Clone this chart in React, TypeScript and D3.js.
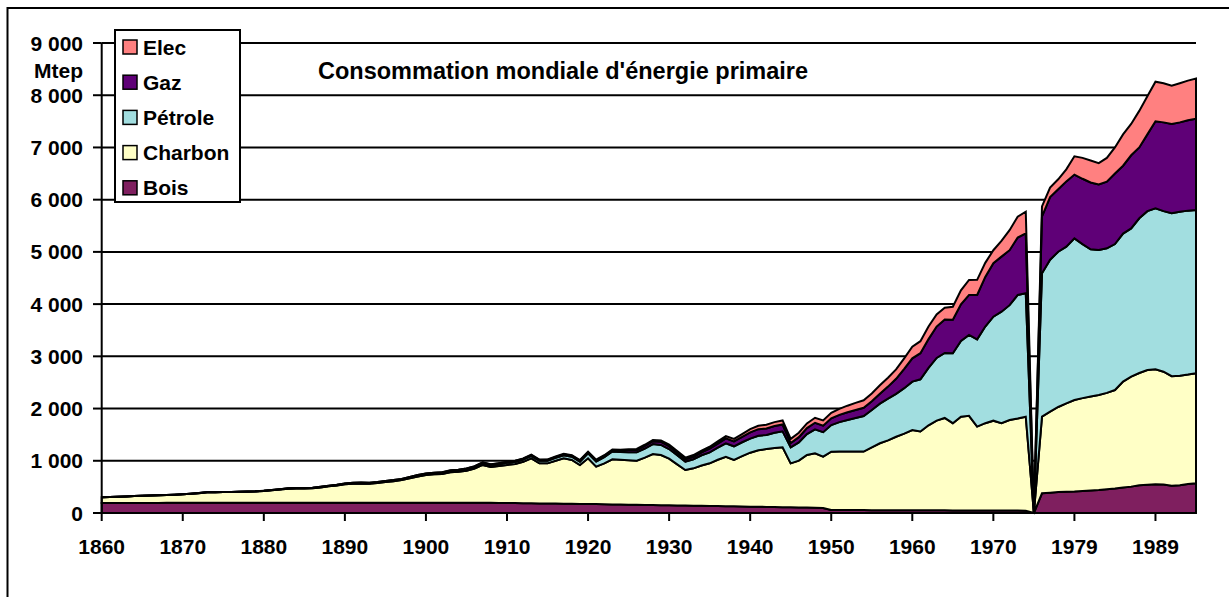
import React from "react";
import * as d3 from "d3";

// ---------- DATA ----------
// categories: yearly 1860-1974, one empty (break) category, then 1975-1994
const categories: string[] = [
  ...d3.range(1860, 1975).map(String),
  "",
  ...d3.range(1975, 1995).map(String),
];

const tickLabels = ["1860", "1870", "1880", "1890", "1900", "1910", "1920", "1930", "1940", "1950", "1960", "1970", "1979", "1989"];
const yTicks = [0, 1000, 2000, 3000, 4000, 5000, 6000, 7000, 8000, 9000];
const yTickLabels = ["0", "1 000", "2 000", "3 000", "4 000", "5 000", "6 000", "7 000", "8 000", "9 000"];

const seriesNames = ["Bois", "Charbon", "Pétrole", "Gaz", "Elec"];
const seriesColors = ["#7F1F5F", "#FFFFC6", "#A2DEE0", "#5F0077", "#FF8080"];

const bois = [
  190, 190, 191, 191, 192, 192, 193, 193, 194, 194,
  195, 195, 195, 196, 196, 196, 197, 197, 197, 197,
  198, 198, 198, 198, 198, 198, 198, 198, 198, 198,
  198, 198, 198, 198, 198, 198, 197, 197, 197, 197,
  196, 196, 196, 195, 195, 195, 194, 194, 194, 193,
  192, 190, 188, 186, 184, 182, 180, 178, 176, 174,
  172, 170, 168, 165, 162, 160, 157, 155, 152, 150,
  147, 145, 142, 140, 137, 135, 132, 130, 127, 125,
  122, 120, 117, 115, 112, 110, 107, 104, 100, 97,
  58, 57, 57, 56, 56, 55, 55, 54, 54, 53,
  53, 52, 52, 51, 51, 50, 50, 49, 49, 48,
  48, 47, 47, 46, 45,
  0,
  377, 390, 400, 405, 410, 420, 430, 440, 455, 470,
  490, 505, 530, 540, 550, 545, 520, 530, 555, 570,
];

const charbon = [
  110, 115, 119, 127, 133, 138, 142, 147, 151, 156,
  163, 173, 185, 199, 199, 204, 205, 208, 211, 215,
  223, 237, 252, 267, 272, 272, 274, 292, 312, 327,
  351, 362, 367, 362, 377, 397, 413, 433, 468, 503,
  532, 544, 549, 585, 595, 615, 656, 726, 686, 707,
  728, 750, 792, 861, 767, 769, 820, 869, 839, 745,
  875, 717, 783, 863, 858, 850, 845, 905, 978, 961,
  893, 785, 681, 715, 773, 816, 888, 948, 888, 965,
  1033, 1080, 1108, 1130, 1146, 841, 895, 1007, 1043, 981,
  1116, 1123, 1123, 1122, 1120, 1203, 1280, 1336, 1406, 1467,
  1537, 1508, 1628, 1719, 1769, 1670, 1795, 1811, 1606, 1672,
  1720, 1673, 1733, 1764, 1800,
  0,
  1468, 1550, 1630, 1695, 1754, 1780, 1800, 1820, 1845, 1885,
  2025, 2105, 2150, 2198, 2201, 2161, 2100, 2100, 2095, 2105,
];

const petrole = [
  0, 0, 0, 0, 1, 1, 1, 1, 1, 1,
  1, 1, 1, 2, 2, 2, 2, 3, 3, 3,
  4, 4, 5, 5, 5, 6, 6, 7, 7, 8,
  9, 10, 10, 11, 11, 12, 13, 14, 15, 17,
  19, 21, 23, 25, 27, 29, 31, 33, 35, 37,
  40, 42, 44, 46, 48, 50, 55, 60, 62, 65,
  95, 100, 120, 150, 150, 155, 160, 175, 190, 192,
  185, 175, 162, 175, 195, 210, 230, 255, 262, 265,
  270, 280, 270, 290, 307, 308, 350, 400, 460, 470,
  510, 560, 600, 640, 680, 715, 760, 800, 822, 870,
  925, 1000, 1100, 1200, 1245, 1340, 1450, 1550, 1670, 1850,
  1992, 2135, 2200, 2365, 2362,
  0,
  2745, 2910, 2974, 3000, 3096, 2950, 2820, 2776, 2768, 2795,
  2835, 2840, 2963, 3042, 3084, 3074, 3119, 3140, 3140, 3127,
];

const gaz = [
  0, 0, 0, 0, 0, 0, 0, 0, 0, 0,
  0, 0, 0, 0, 0, 0, 0, 0, 0, 0,
  1, 1, 2, 2, 3, 3, 4, 5, 6, 6,
  7, 7, 7, 7, 7, 8, 8, 8, 8, 9,
  9, 10, 10, 11, 11, 12, 12, 13, 14, 14,
  15, 15, 16, 16, 17, 17, 18, 19, 19, 20,
  20, 20, 22, 25, 27, 40, 45, 50, 55, 60,
  55, 50, 45, 48, 55, 70, 80, 95, 95, 105,
  120, 125, 125, 130, 130, 80, 100, 115, 125, 125,
  128, 140, 150, 155, 158, 165, 190, 230, 287, 370,
  447, 500, 550, 600, 640, 640, 700, 766, 850, 950,
  1022, 1054, 1053, 1100, 1149,
  0,
  1090, 1200, 1196, 1250, 1220, 1250, 1280, 1254, 1277, 1350,
  1300, 1400, 1357, 1470, 1665, 1700, 1711, 1710, 1730, 1748,
];

const elec = [
  0, 0, 0, 0, 0, 0, 0, 0, 0, 0,
  0, 0, 0, 0, 0, 0, 0, 0, 0, 0,
  0, 0, 0, 0, 0, 0, 0, 0, 0, 0,
  0, 0, 0, 0, 0, 0, 0, 0, 0, 0,
  1, 1, 2, 2, 2, 3, 3, 3, 4, 4,
  5, 5, 6, 7, 7, 8, 8, 9, 9, 10,
  12, 13, 14, 15, 16, 18, 20, 22, 24, 26,
  28, 30, 30, 32, 35, 38, 42, 46, 46, 50,
  60, 65, 70, 75, 78, 80, 85, 90, 95, 100,
  105, 115, 125, 135, 145, 150, 160, 170, 180, 200,
  223, 230, 240, 232, 224, 250, 270, 287, 290, 270,
  250, 300, 383, 400, 414,
  0,
  190, 180, 190, 230, 350, 400, 420, 410, 455, 500,
  600, 600, 700, 730, 760, 750, 730, 750, 760, 770,
];

const seriesValues = [bois, charbon, petrole, gaz, elec];
const legendOrder = ["Elec", "Gaz", "Pétrole", "Charbon", "Bois"];

const title = "Consommation mondiale d'énergie primaire";
const unitLabel = "Mtep";

// ---------- CHART ----------
export default function App() {
  const W = 1229;
  const H = 597;
  const FONT = "'Liberation Sans', Arial, Helvetica, sans-serif";

  const x = d3.scaleLinear().domain([0, categories.length - 1]).range([101.7, 1196]);
  const y = d3.scaleLinear().domain([0, 9000]).range([513, 43]);

  const rows = categories.map((c, i) => {
    const r: Record<string, number> = {};
    seriesNames.forEach((n, k) => (r[n] = seriesValues[k][i]));
    return r;
  });
  const stacked = d3.stack<Record<string, number>>().keys(seriesNames)(rows);

  const area = d3
    .area<d3.SeriesPoint<Record<string, number>>>()
    .x((_, i) => x(i))
    .y0((d) => y(d[0]))
    .y1((d) => y(d[1]));

  const xRight = x(categories.length - 1);
  const tickIdx = tickLabels.map((_, k) => k * 10);

  const legendY = [47, 82.2, 117.4, 152.6, 187.8];

  return (
    <svg width={W} height={H} style={{ position: "absolute", left: 0, top: 0, background: "#fff" }} fontFamily={FONT}>
      <rect x={0} y={0} width={W} height={H} fill="#fff" />
      {/* gridlines */}
      {yTicks.filter((t) => t > 0).map((t) => (
        <line key={t} x1={x(0)} x2={xRight} y1={y(t)} y2={y(t)} stroke="#000" strokeWidth={2} />
      ))}
      {/* areas */}
      {stacked.map((s, k) => (
        <path
          key={s.key}
          d={area(s) || ""}
          fill={seriesColors[k]}
          stroke="#000"
          strokeWidth={2}
          strokeLinejoin="miter"
        />
      ))}
      {/* axes */}
      <line x1={x(0)} x2={x(0)} y1={y(9000)} y2={y(0)} stroke="#000" strokeWidth={2} />
      <line x1={x(0)} x2={xRight} y1={y(0)} y2={y(0)} stroke="#000" strokeWidth={2} />
      {yTicks.map((t, i) => (
        <g key={t}>
          <line x1={93} x2={x(0)} y1={y(t)} y2={y(t)} stroke="#000" strokeWidth={2} />
          <text x={83} y={y(t) + 7.5} textAnchor="end" fontSize={21} fontWeight="bold">
            {yTickLabels[i]}
          </text>
        </g>
      ))}
      <text x={83} y={78} textAnchor="end" fontSize={21} fontWeight="bold">
        {unitLabel}
      </text>
      {tickIdx.map((ti, k) => (
        <g key={ti}>
          <line x1={x(ti)} x2={x(ti)} y1={y(0)} y2={521} stroke="#000" strokeWidth={2} />
          <text x={x(ti)} y={554} textAnchor="middle" fontSize={21} fontWeight="bold">
            {tickLabels[k]}
          </text>
        </g>
      ))}
      {/* title */}
      <text x={318} y={79} fontSize={23.5} fontWeight="bold">
        {title}
      </text>
      {/* legend */}
      <rect x={115} y={30} width={125} height={172} fill="#fff" stroke="#000" strokeWidth={2} />
      {legendOrder.map((name, i) => {
        const k = seriesNames.indexOf(name);
        return (
          <g key={name}>
            <rect x={123} y={legendY[i] - 7} width={14} height={14} fill={seriesColors[k]} stroke="#000" strokeWidth={1.5} />
            <text x={143} y={legendY[i] + 7.5} fontSize={21} fontWeight="bold">
              {name}
            </text>
          </g>
        );
      })}
      {/* outer border */}
      <rect x={7.5} y={8} width={1240} height={620} fill="none" stroke="#000" strokeWidth={2} />
    </svg>
  );
}
